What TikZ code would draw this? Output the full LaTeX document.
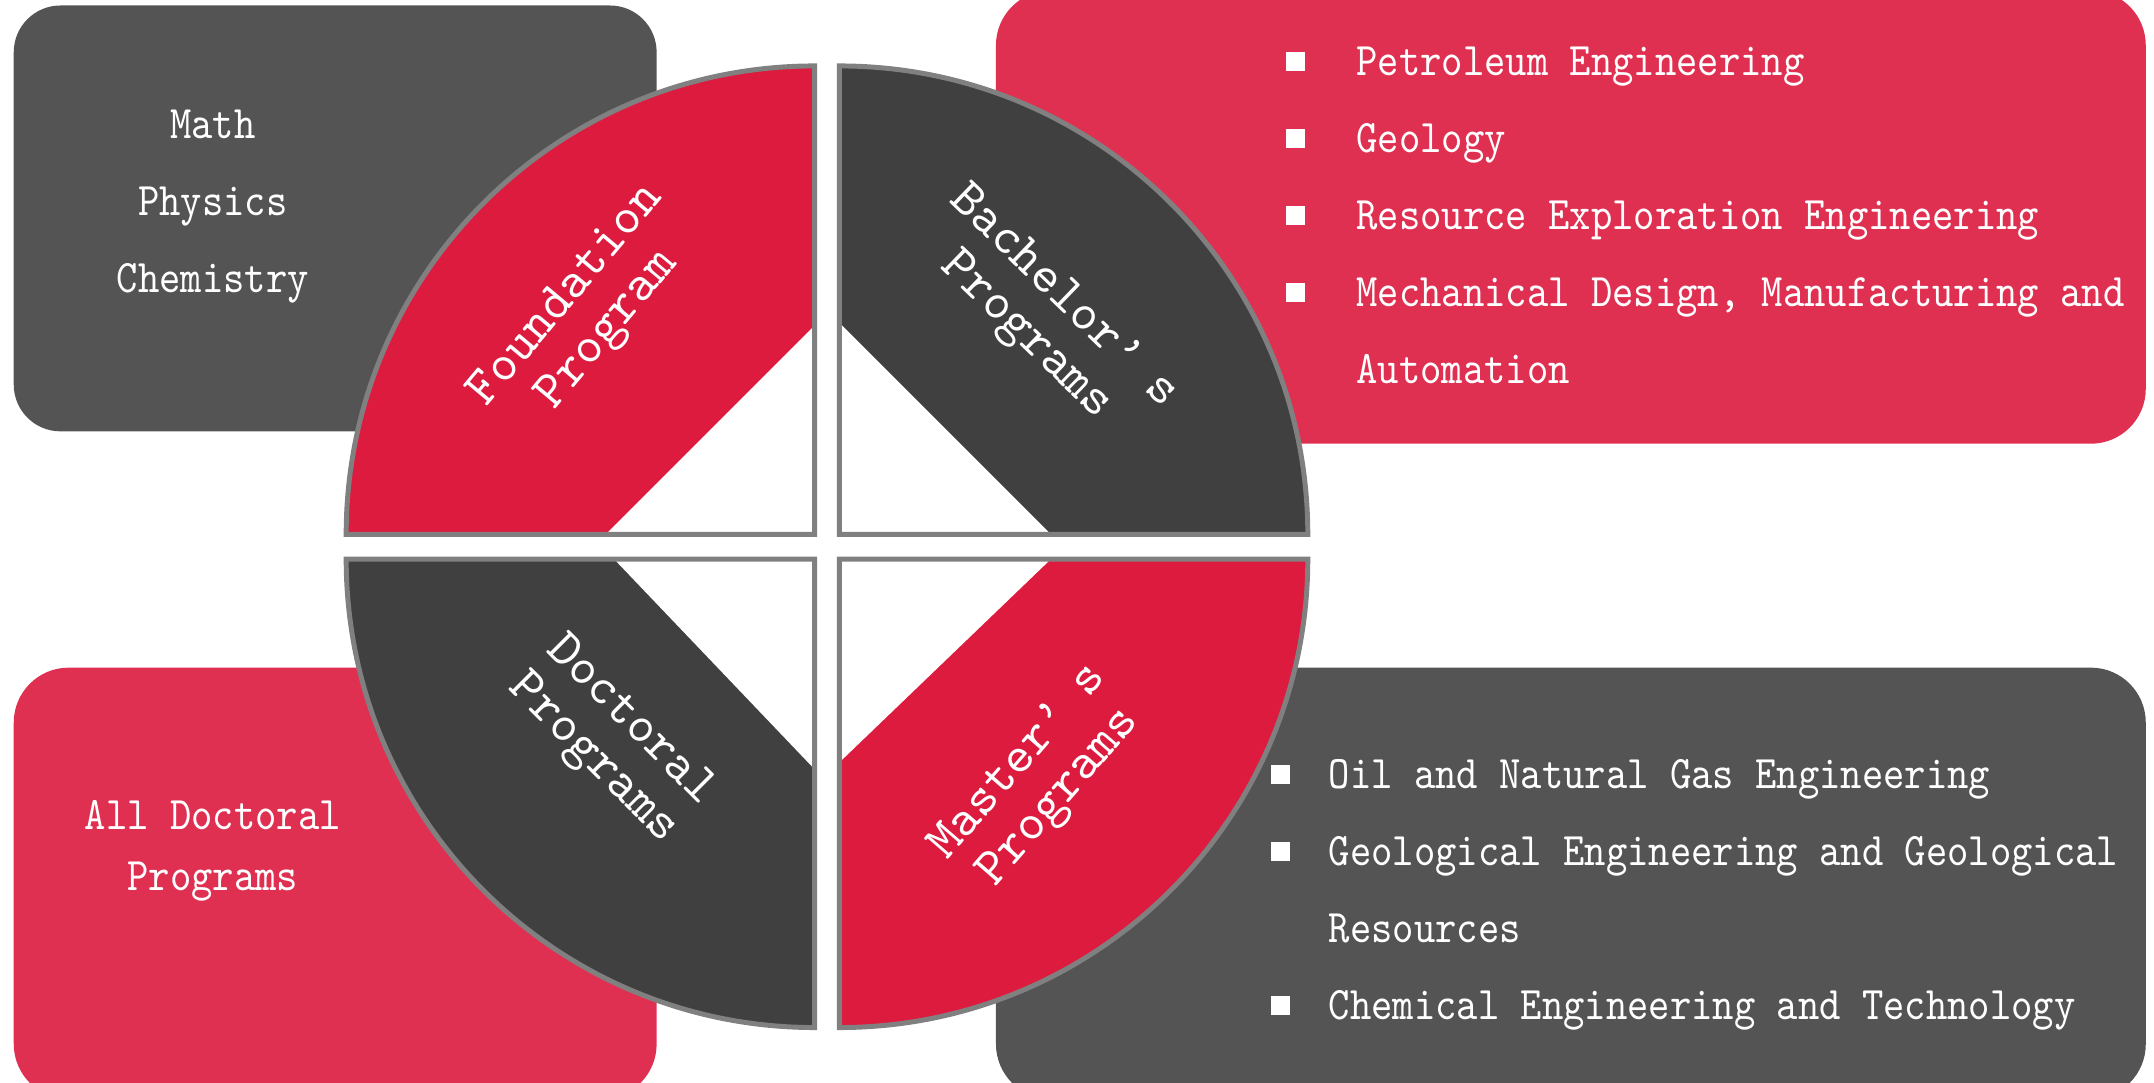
\documentclass[tikz,border=0pt]{standalone}
\usepackage{fontspec}
\newfontfamily\quadfont{lmmono10-regular.otf}
\newfontfamily\listfont[FakeStretch=0.87]{lmmono10-regular.otf}
\definecolor{boxgray}{HTML}{545454}
\definecolor{bandgray}{HTML}{404040}
\definecolor{boxred}{HTML}{E03052}
\definecolor{bandred}{HTML}{DC1B3E}
\definecolor{outl}{HTML}{808080}
\tikzset{
  quadlabel/.style={text=white, font=\quadfont\fontsize{19}{19.5}\selectfont, align=center, inner sep=0pt},
  itemtext/.style={text=white, font=\listfont\fontsize{17}{20}\selectfont, anchor=base west, inner sep=0pt},
  centertext/.style={text=white, font=\listfont\fontsize{17}{20}\selectfont, anchor=base, inner sep=0pt},
  bul/.style={fill=white, minimum size=7pt, inner sep=0pt},
  sectorline/.style={draw=outl, line width=1.8pt, line join=miter},
}
\begin{document}
\begin{tikzpicture}[x=0.5pt,y=0.5pt]
\useasboundingbox (0,0) rectangle (1568,788);
\clip (0,0) rectangle (1568,788);
% side boxes
\fill[boxgray, rounded corners=17pt] (10,474) rectangle (478,784);
\fill[boxred, rounded corners=20pt] (725,465) rectangle (1562,795);
\fill[boxred, rounded corners=20pt] (10,-12) rectangle (478,302);
\fill[boxgray, rounded corners=20pt] (725,-12) rectangle (1562,302);
% top-left quadrant
\fill[bandred] (593,399) -- (252,399) arc[start angle=180,end angle=90,radius=341] -- cycle;
\fill[white] (593,399) -- (441,399) -- (593,551) -- cycle;
\draw[sectorline] (593,399) -- (252,399) arc[start angle=180,end angle=90,radius=341] -- cycle;
% top-right quadrant
\fill[bandgray] (611,399) -- (611,740) arc[start angle=90,end angle=0,radius=341] -- cycle;
\fill[white] (611,399) -- (611,553) -- (765,399) -- cycle;
\draw[sectorline] (611,399) -- (611,740) arc[start angle=90,end angle=0,radius=341] -- cycle;
% bottom-left quadrant
\fill[bandgray] (593,381) -- (593,40) arc[start angle=270,end angle=180,radius=341] -- cycle;
\fill[white] (593,381) -- (447,381) -- (593,228) -- cycle;
\draw[sectorline] (593,381) -- (593,40) arc[start angle=270,end angle=180,radius=341] -- cycle;
% bottom-right quadrant
\fill[bandred] (611,381) -- (952,381) arc[start angle=0,end angle=-90,radius=341] -- cycle;
\fill[white] (611,381) -- (765,381) -- (611,233) -- cycle;
\draw[sectorline] (611,381) -- (952,381) arc[start angle=0,end angle=-90,radius=341] -- cycle;
% quadrant labels
\node[quadlabel, rotate=50] (found) at (428,560) {Foundation\\Program};
\node[quadlabel, rotate=-44] (bach) at (760,557) {Bachelor’\kern0.45em s\\Programs};
\node[quadlabel, rotate=-45] (doct) at (445,249) {Doctoral\\Programs};
\node[quadlabel, rotate=49] (mast) at (757,220) {Master’\kern0.45em s\\Programs};
% top-left box
\node[centertext] (math) at (155,687) {Math};
\node[centertext] (phys) at (155,631) {Physics};
\node[centertext] (chem) at (155,575) {Chemistry};
% bottom-left box
\node[centertext] (alld) at (155,184) {All Doctoral};
\node[centertext] (allp) at (155,140) {Programs};
% top-right box
\node[bul] (b1) at (943,743) {};
\node[itemtext] (t1) at (987,733) {Petroleum Engineering};
\node[bul] (b2) at (943,687) {};
\node[itemtext] (t2) at (987,677) {Geology};
\node[bul] (b3) at (943,631) {};
\node[itemtext] (t3) at (987,621) {Resource Exploration Engineering};
\node[bul] (b4) at (943,575) {};
\node[itemtext] (t4) at (987,565) {Mechanical Design, Manufacturing and};
\node[itemtext] (t5) at (987,509) {Automation};
% bottom-right box
\node[bul] (c1) at (932,224) {};
\node[itemtext] (u1) at (967,214) {Oil and Natural Gas Engineering};
\node[bul] (c2) at (932,168) {};
\node[itemtext] (u2) at (967,158) {Geological Engineering and Geological};
\node[itemtext] (u3) at (967,102) {Resources};
\node[bul] (c3) at (932,56) {};
\node[itemtext] (u4) at (967,46) {Chemical Engineering and Technology};
\end{tikzpicture}
\end{document}
